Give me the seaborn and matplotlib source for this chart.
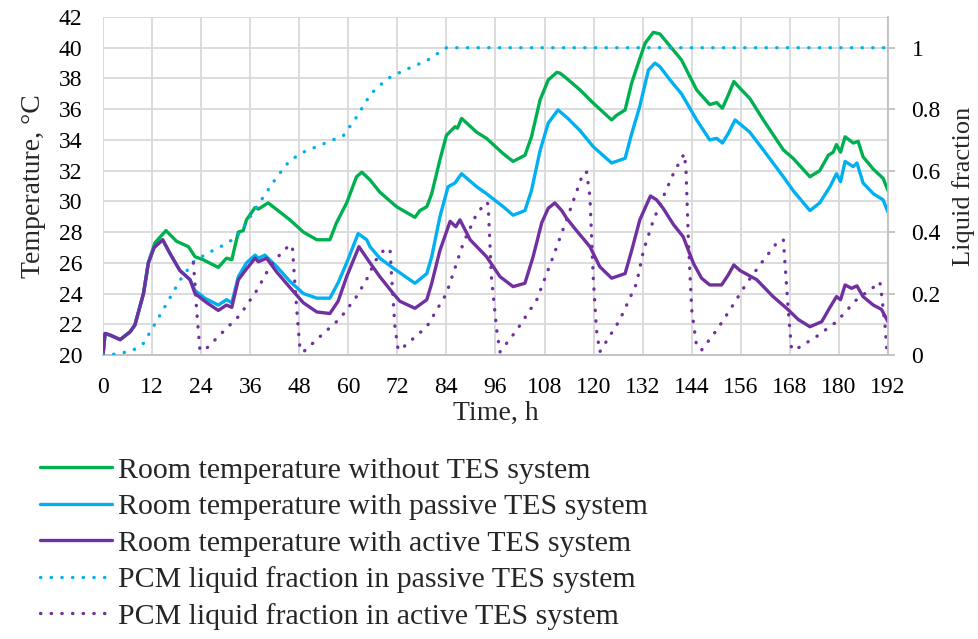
import matplotlib
matplotlib.use("Agg")
import matplotlib.pyplot as plt
import seaborn as sns
import numpy as np

# ---------------- data ----------------
t_none = [0, 0.5, 1.7, 4.2, 6.6, 7.8, 9.9, 11.1, 12.7, 15.4, 18.0, 20.9, 22.5, 24.5, 28.2, 30.2, 31.5,
          33.1, 34.3, 35.1, 37.2, 38.0, 40.4, 45.7, 49.0, 52.3, 55.5, 57.1, 59.6, 62.0, 63.3, 65.3,
          67.7, 71.8, 76.3, 77.5, 79.2, 80.4, 82.4, 84.0, 86.1, 86.7, 87.7, 91.4, 93.8, 97.9, 100.3,
          103.2, 104.8, 106.9, 108.9, 111.0, 111.8, 113.4, 116.7, 119.9, 124.4, 125.6, 127.7, 129.3,
          130.8, 132.6, 134.6, 136.2, 138.7, 141.5, 145.2, 148.4, 150.1, 151.5, 152.9, 154.3, 155.8,
          158.2, 161.5, 166.4, 168.8, 172.9, 175.3, 177.4, 178.6, 179.4, 180.4, 181.5, 183.5, 184.7,
          185.9, 188.4, 190.8, 192]
temp_none = [20.0, 21.4, 21.3, 21.0, 21.5, 21.95, 24.0, 26.0, 27.3, 28.1, 27.4, 27.05, 26.4, 26.2, 25.7,
             26.3, 26.2, 28.0, 28.1, 28.8, 29.6, 29.5, 29.9, 28.8, 28.0, 27.5, 27.5, 28.6, 29.9, 31.6,
             31.9, 31.4, 30.6, 29.65, 28.96, 29.4, 29.65, 30.5, 32.7, 34.3, 34.86, 34.76, 35.4, 34.5,
             34.1, 33.1, 32.6, 33.0, 34.2, 36.6, 37.9, 38.4, 38.34, 38.0, 37.25, 36.4, 35.3, 35.6, 35.95,
             37.7, 38.9, 40.3, 41.0, 40.9, 40.1, 39.2, 37.25, 36.3, 36.43, 36.06, 36.9, 37.8, 37.36,
             36.7, 35.3, 33.35, 32.8, 31.6, 32.0, 33.0, 33.2, 33.7, 33.2, 34.2, 33.8, 33.9, 32.9, 32.1,
             31.5, 30.7]

t_passive = [0, 0.5, 1.7, 4.2, 6.6, 7.8, 9.9, 11.1, 12.5, 14.6, 16.4, 18.8, 21.3, 22.5, 24.9, 28.2,
             30.2, 31.5, 33.1, 35.1, 37.2, 38.0, 39.6, 42.5, 45.7, 49.0, 52.3, 55.5, 57.5, 59.6, 62.4,
             64.5, 65.3, 67.7, 71.8, 76.3, 79.2, 80.4, 82.4, 84.4, 86.1, 87.7, 91.4, 93.8, 97.9, 100.3,
             103.2, 104.8, 106.9, 108.9, 111.3, 113.7, 116.7, 119.9, 124.4, 127.7, 129.3, 131.3, 133.4,
             135.0, 136.2, 138.7, 141.5, 145.2, 148.4, 150.1, 151.5, 152.9, 154.6, 156.6, 158.2, 161.5,
             166.4, 168.8, 172.9, 175.3, 177.8, 179.4, 180.4, 181.5, 183.5, 184.4, 185.9, 188.4, 190.8,
             192]
temp_passive = [20.0, 21.4, 21.3, 21.0, 21.5, 21.95, 24.0, 26.0, 27.0, 27.5, 26.6, 25.5, 24.9, 24.2,
                23.7, 23.25, 23.6, 23.4, 25.1, 26.0, 26.5, 26.3, 26.5, 25.75, 24.8, 24.0, 23.7, 23.7,
                24.7, 26.0, 27.9, 27.5, 27.05, 26.3, 25.5, 24.67, 25.3, 26.4, 29.0, 30.95, 31.2, 31.8,
                30.95, 30.5, 29.65, 29.1, 29.4, 30.7, 33.3, 35.1, 35.95, 35.4, 34.6, 33.56, 32.5, 32.8,
                34.4, 36.2, 38.55, 39.0, 38.77, 37.9, 37.0, 35.3, 34.0, 34.1, 33.8, 34.4, 35.3, 34.86,
                34.5, 33.35, 31.6, 30.7, 29.4, 29.9, 30.95, 31.8, 31.28, 32.6, 32.26, 32.5, 31.2, 30.5,
                30.1, 29.3]

t_active = [0, 0.5, 1.7, 4.2, 6.6, 7.8, 9.9, 11.1, 12.5, 14.6, 16.4, 18.8, 21.3, 22.5, 25.4, 28.2,
            30.2, 31.5, 33.1, 35.1, 37.2, 38.0, 40.0, 42.5, 45.7, 49.0, 52.3, 55.5, 57.5, 59.6, 62.6,
            65.3, 67.7, 71.0, 72.6, 76.3, 79.2, 80.4, 82.4, 84.9, 86.3, 87.3, 89.8, 93.8, 97.1, 100.3,
            103.2, 105.2, 107.3, 108.9, 110.5, 112.2, 113.4, 115.8, 119.1, 121.5, 124.4, 127.7, 129.3,
            131.3, 133.9, 135.4, 137.0, 139.5, 141.9, 144.4, 146.4, 148.4, 151.3, 152.9, 154.3, 155.8,
            159.9, 163.9, 167.2, 170.1, 172.9, 175.8, 177.8, 179.4, 180.4, 181.5, 183.1, 184.4, 185.9,
            188.4, 190.4, 192]
temp_active = [20.0, 21.4, 21.3, 21.0, 21.5, 21.95, 24.0, 26.0, 27.0, 27.5, 26.6, 25.5, 24.9, 24.0,
               23.4, 22.9, 23.25, 23.1, 24.9, 25.6, 26.3, 26.07, 26.3, 25.4, 24.4, 23.4, 22.8, 22.7,
               23.5, 25.1, 27.05, 26.0, 25.1, 24.0, 23.5, 23.04, 23.6, 24.67, 26.8, 28.7, 28.35, 28.8,
               27.5, 26.4, 25.1, 24.45, 24.67, 26.4, 28.6, 29.55, 29.9, 29.4, 28.9, 28.1, 27.05, 25.75,
               25.0, 25.3, 26.8, 28.8, 30.35, 30.1, 29.55, 28.5, 27.7, 25.97, 25.0, 24.56, 24.56, 25.2,
               25.86, 25.5, 24.9, 23.8, 23.04, 22.3, 21.84, 22.17, 23.1, 23.8, 23.6, 24.56, 24.34, 24.5,
               23.8, 23.25, 22.97, 22.17]

t_lf_passive = [0, 0.9, 4.2, 7.4, 9.9, 12.3, 15.6, 18.8, 22.1, 25.4, 29.4, 32.7, 36.0, 39.2, 42.5,
                45.7, 49.0, 53.9, 58.8, 62.0, 65.5, 69.4, 73.4, 79.2, 84.0, 192]
lf_passive = [0.0, 0.0, 0.005, 0.016, 0.038, 0.092, 0.168, 0.243, 0.303, 0.33, 0.357, 0.384, 0.449,
              0.514, 0.579, 0.633, 0.66, 0.687, 0.714, 0.774, 0.85, 0.898, 0.925, 0.958, 1.0, 1.0]

t_lf_active = [22.1, 22.5, 22.9, 23.7, 24.9, 29.4, 33.5, 37.6, 40.8, 44.1, 45.7, 46.3, 46.7, 47.4, 48.2,
               49.0, 53.9, 58.0, 62.0, 65.3, 66.1, 68.6, 70.2, 70.6, 71.4, 72.2, 72.8, 79.2, 84.0, 88.1,
               91.4, 93.8, 94.2, 95.0, 96.3, 97.1, 101.2, 106.1, 110.1, 114.2, 117.5, 118.3, 119.1,
               119.9, 120.7, 121.5, 126.4, 130.5, 132.2, 134.6, 137.0, 139.5, 141.5, 142.2, 142.6, 143.2,
               144.0, 145.2, 146.4, 150.1, 153.3, 157.4, 161.5, 164.7, 166.4, 166.8, 167.6, 168.4, 169.2,
               174.5, 179.4, 184.3, 188.4, 190.0, 190.4, 191.3, 191.7]
lf_active = [0.30, 0.23, 0.146, 0.016, 0.016, 0.076, 0.13, 0.21, 0.287, 0.34, 0.357, 0.357, 0.276, 0.146,
             0.016, 0.01, 0.07, 0.119, 0.19, 0.265, 0.298, 0.34, 0.346, 0.254, 0.092, 0.016, 0.018, 0.092,
             0.2, 0.363, 0.46, 0.498, 0.49, 0.254, 0.081, 0.01, 0.081, 0.18, 0.32, 0.47, 0.595, 0.595,
             0.514, 0.254, 0.081, 0.01, 0.114, 0.233, 0.34, 0.438, 0.514, 0.59, 0.64, 0.655, 0.6, 0.363,
             0.146, 0.027, 0.016, 0.081, 0.146, 0.233, 0.308, 0.363, 0.376, 0.3, 0.146, 0.02, 0.016,
             0.06, 0.108, 0.18, 0.22, 0.238, 0.2, 0.092, 0.016]

x_ticks = list(range(0, 193, 12))
y_ticks = list(range(20, 43, 2))
y2_ticks = [0, 0.2, 0.4, 0.6, 0.8, 1.0]
y2_labels = ["0", "0.2", "0.4", "0.6", "0.8", "1"]

labels = ["Room temperature without TES system",
          "Room temperature with passive TES system",
          "Room temperature with active TES system",
          "PCM liquid fraction in passive TES system",
          "PCM liquid fraction in active TES system"]

GREEN = "#00B050"
BLUE = "#00B0F0"
PURPLE = "#7030A0"

# ---------------- style ----------------
sns.set_style("white")
plt.rcParams['font.family'] = ['Liberation Serif', 'DejaVu Serif']

fig = plt.figure(figsize=(9.79, 6.39), dpi=100)
ax = fig.add_axes([103/979, 1-355/639, (888-103)/979, (355-17)/639])
ax2 = ax.twinx()

LW = 2.4
dot = (0, (0.1, 3.1))

sns.lineplot(x=t_none, y=temp_none, ax=ax, color=GREEN, linewidth=LW, estimator=None, label=labels[0], legend=False)
sns.lineplot(x=t_passive, y=temp_passive, ax=ax, color=BLUE, linewidth=LW, estimator=None, label=labels[1], legend=False)
sns.lineplot(x=t_active, y=temp_active, ax=ax, color=PURPLE, linewidth=LW, estimator=None, label=labels[2], legend=False)
sns.lineplot(x=t_lf_passive, y=lf_passive, ax=ax2, color=BLUE, linewidth=LW, linestyle=dot,
             dash_capstyle='round', estimator=None, label=labels[3], legend=False)
sns.lineplot(x=t_lf_active, y=lf_active, ax=ax2, color=PURPLE, linewidth=LW, linestyle=dot,
             dash_capstyle='round', estimator=None, label=labels[4], legend=False)

ax.set_xlim(0, 192)
ax.set_ylim(20, 42)
ax2.set_ylim(0, 1.1)
ax.set_xticks(x_ticks)
ax.set_yticks(y_ticks)
ax2.set_yticks(y2_ticks)
ax2.set_yticklabels(y2_labels)

GRID = "#d9d9d9"
ax.grid(True, color=GRID, linewidth=1.3)
ax.set_axisbelow(True)
ax2.grid(False)
for a in (ax, ax2):
    for s in a.spines.values():
        s.set_visible(False)
ax.spines['bottom'].set_visible(True)
ax.spines['bottom'].set_color("#bfbfbf")
ax.spines['bottom'].set_linewidth(1.3)
ax2.spines['right'].set_visible(True)
ax2.spines['right'].set_color("#bfbfbf")
ax2.spines['right'].set_linewidth(1.3)

ax.tick_params(axis='y', length=0, labelsize=17, colors='black', pad=15)
ax.tick_params(axis='x', length=0, labelsize=17, colors='black', pad=16)
ax2.tick_params(axis='y', length=5, width=1.3, color="#bfbfbf", labelsize=17, labelcolor='black', pad=12)

ax.set_xlabel("Time, h", fontsize=20, labelpad=2)
ax.set_ylabel("Temperature, °C", fontsize=20, labelpad=9)
ax2.set_ylabel("Liquid fraction", fontsize=19, labelpad=8)

h1, l1 = ax.get_legend_handles_labels()
h2, l2 = ax2.get_legend_handles_labels()
fig.legend(h1 + h2, l1 + l2, loc='upper left', bbox_to_anchor=(40/979, 1-457/639), frameon=False,
           fontsize=21.5, handlelength=2.4, handletextpad=0.22, labelspacing=0.32, borderaxespad=0,
           borderpad=0)

fig.savefig("out.png", dpi=100)
